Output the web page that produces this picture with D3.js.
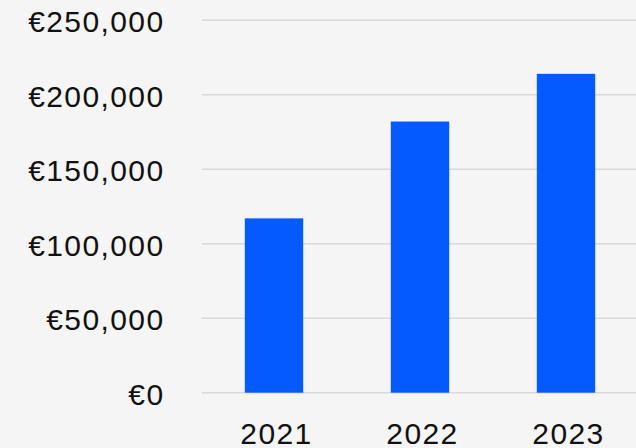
<!DOCTYPE html>
<html>
<head>
<meta charset="utf-8">
<script src="https://cdn.jsdelivr.net/npm/d3@7"></script>
<style>
  html, body { margin: 0; padding: 0; background: #f5f5f5; }
  svg { display: block; }
  text { font-family: "Liberation Sans", Arial, sans-serif; fill: #111; }
</style>
</head>
<body>
<svg id="chart"></svg>
<script>
const years = ["2021", "2022", "2023"];
const revenue = [117000, 182000, 214000];
const yTicks = [0, 50000, 100000, 150000, 200000, 250000];

const width = 636, height = 448;

const svg = d3.select("#chart")
    .attr("width", width)
    .attr("height", height);

svg.append("rect")
    .attr("width", width)
    .attr("height", height)
    .attr("fill", "#f5f5f5");

const x = d3.scaleBand()
    .domain(years)
    .range([201, 639])
    .paddingInner(0.6)
    .paddingOuter(0.3);

const y = d3.scaleLinear()
    .domain([0, 250000])
    .range([392.7, 20.2]);

const fmt = v => "€" + d3.format(",")(v);

// gridlines
svg.append("g")
    .selectAll("line")
    .data(yTicks)
    .join("line")
    .attr("x1", 202)
    .attr("x2", width)
    .attr("y1", d => y(d))
    .attr("y2", d => y(d))
    .attr("stroke", "#d9d9d9")
    .attr("stroke-width", 1.5);

// y labels
svg.append("g")
    .selectAll("text")
    .data(yTicks)
    .join("text")
    .attr("x", 164.5)
    .attr("y", d => y(d) + 12)
    .attr("text-anchor", "end")
    .attr("font-size", 30)
    .attr("letter-spacing", 1.4)
    .text(fmt);

// bars
svg.append("g")
    .selectAll("rect")
    .data(revenue)
    .join("rect")
    .attr("x", (d, i) => x(years[i]))
    .attr("width", x.bandwidth())
    .attr("y", d => y(d))
    .attr("height", d => y(0) - y(d))
    .attr("fill", "#045aff");

// x labels
svg.append("g")
    .selectAll("text")
    .data(years)
    .join("text")
    .attr("x", d => x(d) + x.bandwidth() / 2 + 2.5)
    .attr("y", 444)
    .attr("text-anchor", "middle")
    .attr("font-size", 30)
    .attr("letter-spacing", 1.4)
    .text(d => d);
</script>
</body>
</html>
